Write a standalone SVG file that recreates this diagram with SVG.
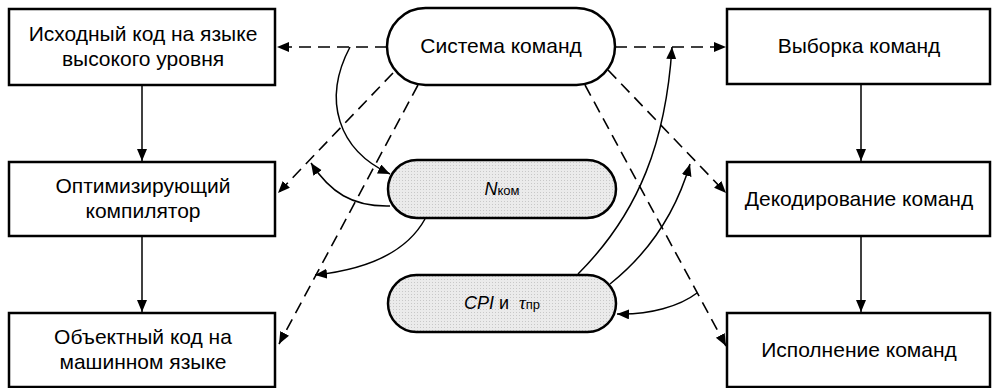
<svg xmlns="http://www.w3.org/2000/svg" width="992" height="388" viewBox="0 0 992 388">
<defs>
<style>
.box{fill:#fff;stroke:#000;stroke-width:2.5}
.pill{fill:#fff;stroke:#000;stroke-width:2.5}
.gpill{fill:url(#dots);stroke:#000;stroke-width:2.5}
.t{font-family:"Liberation Sans",Arial,sans-serif;font-size:21px;fill:#000;text-anchor:middle}
.s{font-family:"Liberation Sans",Arial,sans-serif;font-size:18px;fill:#000;text-anchor:middle}
.dash{fill:none;stroke:#000;stroke-width:1.6;stroke-dasharray:12 7;marker-end:url(#ah)}
.sol{fill:none;stroke:#000;stroke-width:1.5;marker-end:url(#ah)}
</style>
<pattern id="dots" width="3" height="3" patternUnits="userSpaceOnUse">
<rect width="3" height="3" fill="#ebebeb"/>
<rect width="1" height="1" fill="#c8c8c8"/>
</pattern>
<marker id="ah" markerUnits="userSpaceOnUse" markerWidth="14" markerHeight="12" refX="12" refY="5" orient="auto">
<path d="M0,0 L12,5 L0,10 Z" fill="#000"/>
</marker>
</defs>

<g id="connectors">
<path class="sol" d="M142,85 V161"/>
<path class="sol" d="M142,236 V312"/>
<path class="sol" d="M861,85 V161"/>
<path class="sol" d="M861,237 V312"/>
<path class="dash" d="M387,47 H277"/>
<path class="dash" d="M615,47 H726"/>
<path class="dash" d="M393,73 L278,193"/>
<path class="dash" d="M418,85 L279,344"/>
<path class="dash" d="M608,70 L726,193"/>
<path class="dash" d="M585,85 L726,346"/>
<path class="sol" d="M350,47 C322,100 338,150 390,174"/>
<path class="sol" d="M390,206 C352,207 330,192 311,163"/>
<path class="sol" d="M425,219 C405,255 362,270 315,275"/>
<path class="sol" d="M578,274 C640,212 666,140 672,47"/>
<path class="sol" d="M610,284 C650,252 676,212 690,164"/>
<path class="sol" d="M697,293 C680,306 650,315 617,314"/>
</g>

<g id="src">
<rect class="box" x="9" y="9" width="266" height="76"/>
<text class="t" x="143" y="41">Исходный код на языке</text>
<text class="t" x="143" y="66">высокого уровня</text>
</g>
<g id="compiler">
<rect class="box" x="9" y="162" width="266" height="74"/>
<text class="t" x="143" y="193">Оптимизирующий</text>
<text class="t" x="143" y="218">компилятор</text>
</g>
<g id="obj">
<rect class="box" x="9" y="313" width="266" height="74"/>
<text class="t" x="143" y="344">Объектный код на</text>
<text class="t" x="143" y="369">машинном языке</text>
</g>

<g id="isa">
<rect class="pill" x="387" y="8" width="228" height="77" rx="38.5"/>
<text class="t" x="501" y="53">Система команд</text>
</g>
<g id="ncom">
<rect class="gpill" x="388" y="160" width="228" height="58" rx="29"/>
<text class="s" x="502" y="195"><tspan font-style="italic">N</tspan><tspan font-size="13">ком</tspan></text>
</g>
<g id="cpi">
<rect class="gpill" x="388" y="275" width="228" height="57" rx="28.5"/>
<text class="s" x="502" y="309" xml:space="preserve"><tspan font-style="italic">CPI</tspan> и  <tspan font-style="italic" font-family="Liberation Serif,serif" font-size="19">τ</tspan><tspan font-size="13">пр</tspan></text>
</g>

<g id="fetch">
<rect class="box" x="727" y="9" width="263" height="75"/>
<text class="t" x="859" y="53">Выборка команд</text>
</g>
<g id="decode">
<rect class="box" x="727" y="162" width="263" height="74"/>
<text class="t" x="859" y="206">Декодирование команд</text>
</g>
<g id="exec">
<rect class="box" x="727" y="313" width="263" height="74"/>
<text class="t" x="859" y="357">Исполнение команд</text>
</g>
</svg>
